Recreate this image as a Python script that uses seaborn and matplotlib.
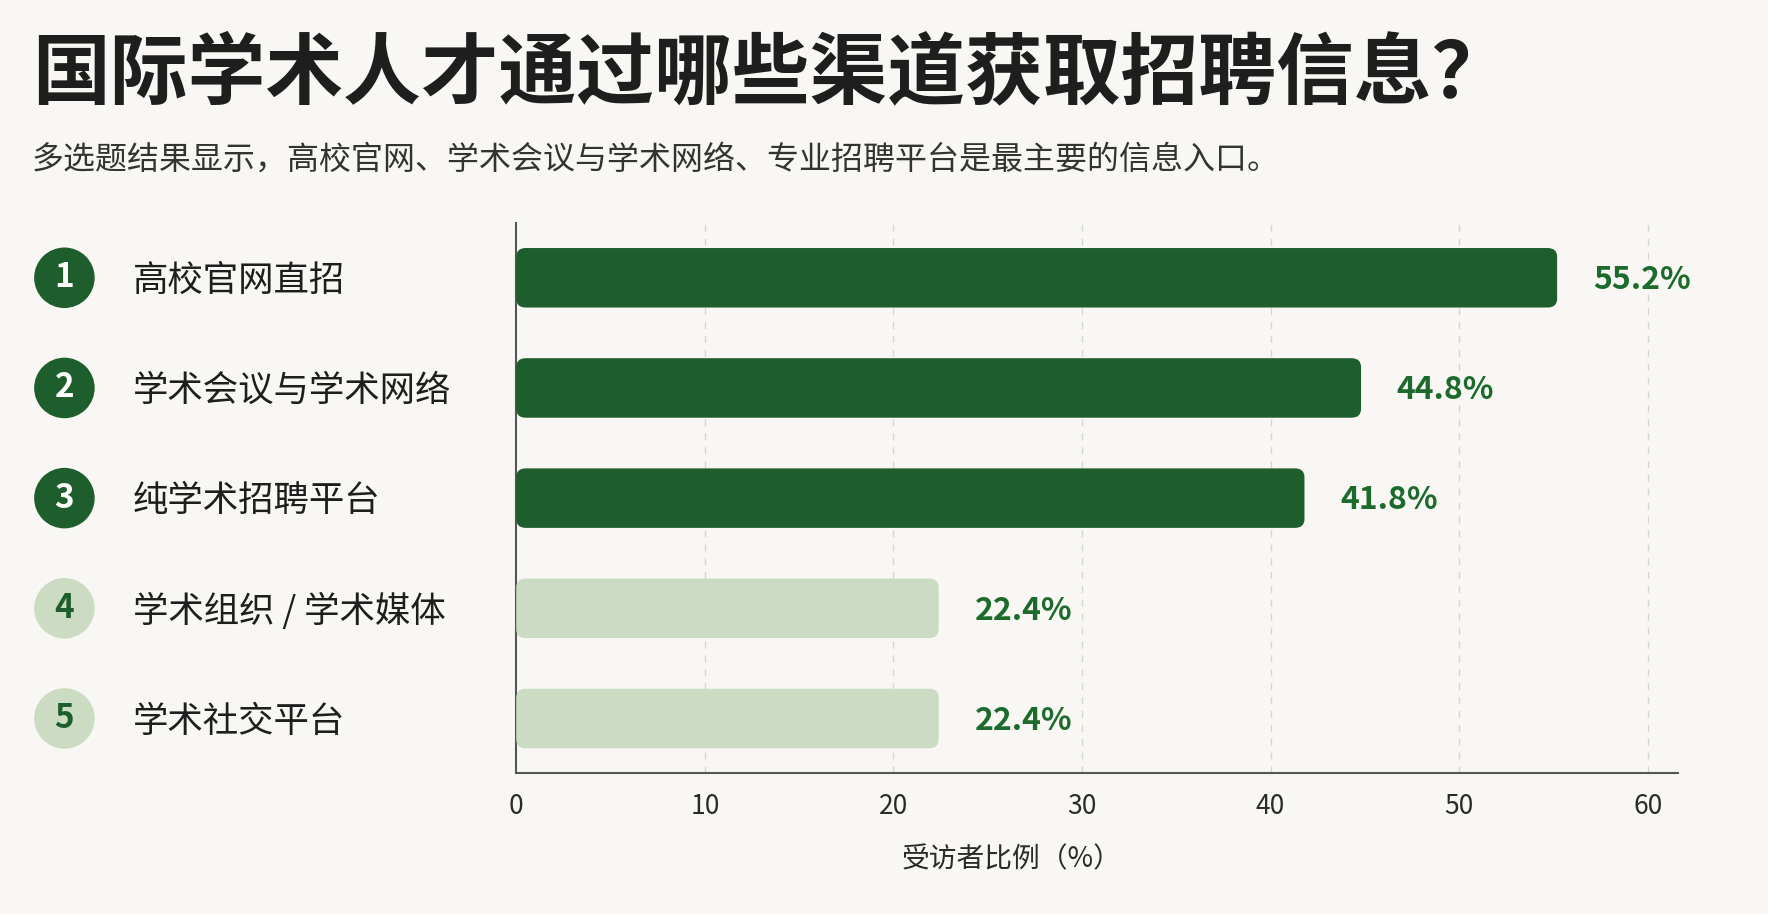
import matplotlib
matplotlib.use("Agg")
import matplotlib.pyplot as plt
from matplotlib.patches import FancyBboxPatch
import seaborn as sns
import pandas as pd

# 数据
ranks = ["1", "2", "3", "4", "5"]
channels = ["高校官网直招", "学术会议与学术网络", "纯学术招聘平台", "学术组织 / 学术媒体", "学术社交平台"]
shares = [55.2, 44.8, 41.8, 22.4, 22.4]
xticks = [0, 10, 20, 30, 40, 50, 60]

dark = "#1d5e2c"
light = "#cbdcc2"
bg = "#f8f7f3"
colors = [dark, dark, dark, light, light]

sns.set_theme(style="white")
plt.rcParams["font.family"] = ["Noto Sans CJK SC", "DejaVu Sans"]

df = pd.DataFrame({"channel": channels, "share": shares})

fig = plt.figure(figsize=(17.68, 9.14), dpi=100, facecolor=bg)
ax = fig.add_axes([0.292, 0.154, 0.657, 0.602])
ax.set_facecolor(bg)

sns.barplot(data=df, x="share", y="channel", hue="channel", palette=colors,
            orient="h", width=0.54, legend=False, ax=ax, saturation=1)

ax.set_xlim(0, 61.6)
ax.set_xticks(xticks)

# 圆角条形
for bar, col in zip(list(ax.patches), colors):
    x0, y0, w, h = bar.get_x(), bar.get_y(), bar.get_width(), bar.get_height()
    bar.remove()
    ax.add_patch(FancyBboxPatch((x0, y0), w, h,
                                boxstyle="round,pad=0,rounding_size=0.5",
                                mutation_aspect=0.16, facecolor=col,
                                edgecolor="none", zorder=3))

# 数值标签
for i, v in enumerate(shares):
    ax.text(v + 1.9, i + 0.02, f"{v:.1f}%", ha="left", va="center",
            fontsize=23, fontweight="bold", color="#1d6b2c")

# 左侧序号与名称
yt = ax.get_yaxis_transform()
ax.scatter([-0.389] * len(ranks), range(len(ranks)), s=1900, c=colors,
           transform=yt, clip_on=False, zorder=4, linewidths=0)
for i, (r, name) in enumerate(zip(ranks, channels)):
    ax.text(-0.389, i, r, transform=yt, ha="center", va="center",
            fontsize=24, fontweight="bold",
            color="white" if i < 3 else dark, zorder=5)
    ax.text(-0.330, i + 0.03, name, transform=yt, ha="left", va="center",
            fontsize=25.5, color="#1e1e1e")

ax.set_yticks([])
ax.set_ylabel("")
ax.set_xlabel("受访者比例（%）", fontsize=20, color="#2a2a2a")
ax.xaxis.set_label_coords(0.426, -0.13)
ax.tick_params(axis="x", labelsize=19, colors="#2a2a2a", length=0, pad=14)

for g in xticks[1:]:
    ax.axvline(g, color="#d5d5d5", linestyle=(0, (5, 5)), linewidth=1, zorder=0)

for s in ["top", "right"]:
    ax.spines[s].set_visible(False)
for s in ["left", "bottom"]:
    ax.spines[s].set_color("#555555")
    ax.spines[s].set_linewidth(1.5)

fig.text(0.018, 0.918, "国际学术人才通过哪些渠道获取招聘信息？", fontsize=56,
         fontweight="bold", color="#1e1e1e", ha="left", va="center")
fig.text(0.018, 0.825, "多选题结果显示，高校官网、学术会议与学术网络、专业招聘平台是最主要的信息入口。",
         fontsize=23, color="#333333", ha="left", va="center")

fig.savefig("out.png", dpi=100, facecolor=bg)
